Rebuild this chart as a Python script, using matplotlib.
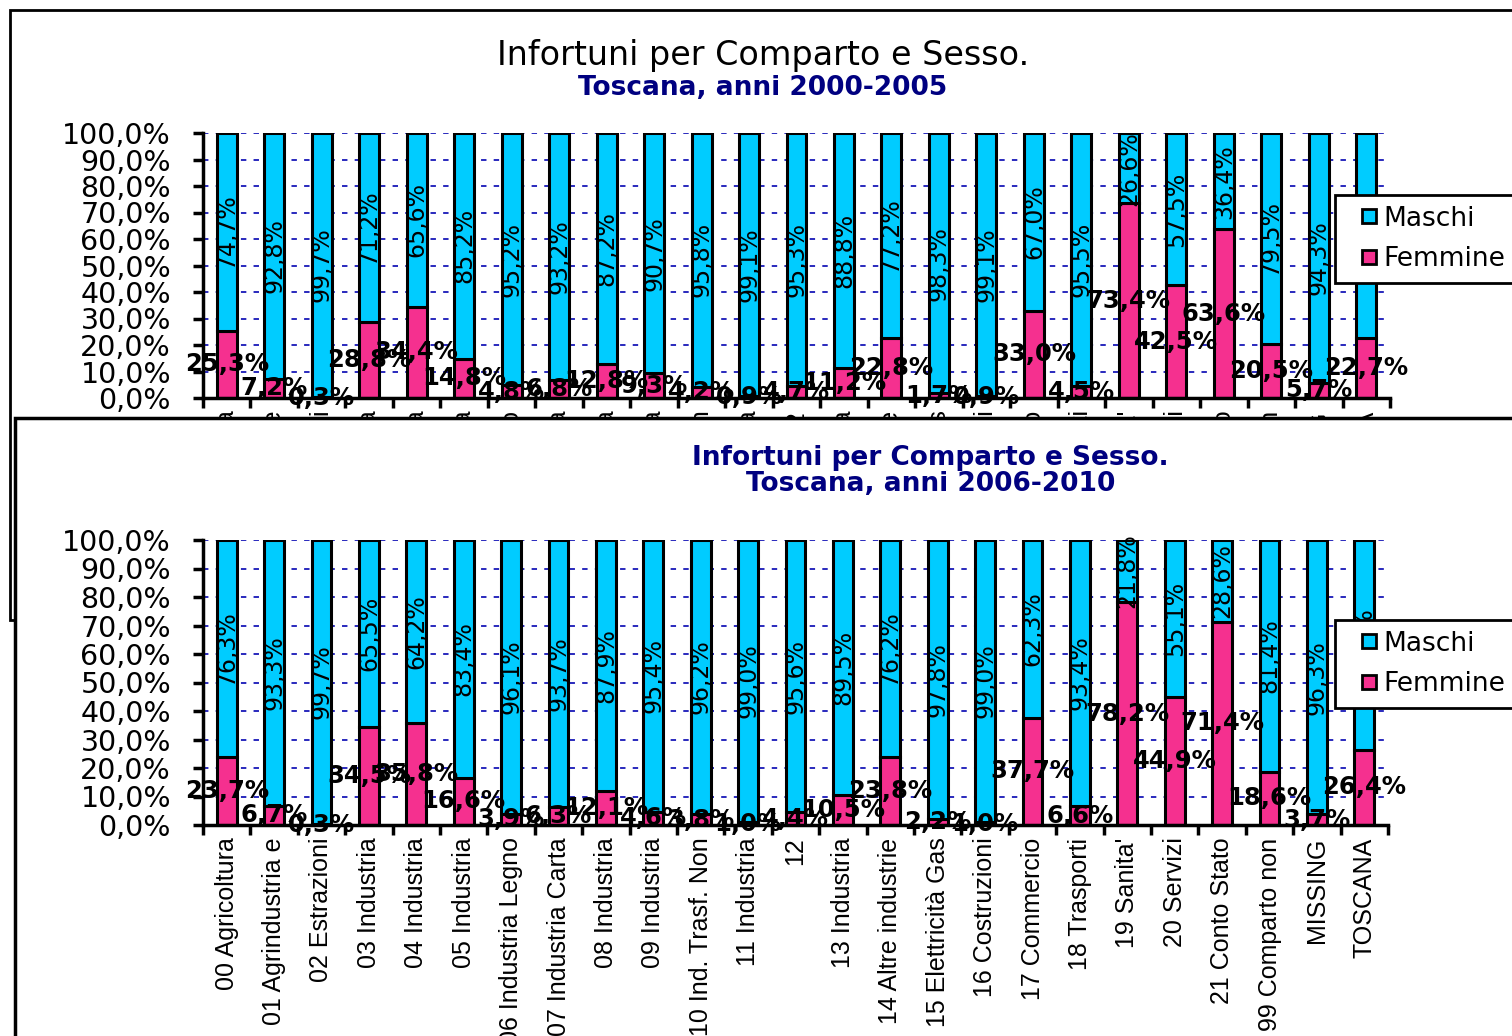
import matplotlib.pyplot as plt
import numpy as np
from matplotlib.lines import Line2D
from matplotlib.patches import Rectangle
from matplotlib.ticker import FuncFormatter

W, H = 1512, 1036

comparti = ["00 Agricoltura", "01 Agrindustria e", "02 Estrazioni", "03 Industria",
            "04 Industria", "05 Industria", "06 Industria Legno", "07 Industria Carta",
            "08 Industria", "09 Industria", "10 Ind. Trasf. Non", "11 Industria", "12",
            "13 Industria", "14 Altre industrie", "15 Elettricità Gas", "16 Costruzioni",
            "17 Commercio", "18 Trasporti", "19 Sanita'", "20 Servizi", "21 Conto Stato",
            "99 Comparto non", "MISSING", "TOSCANA"]

# 2000-2005
femmine_0005 = [25.3, 7.2, 0.3, 28.8, 34.4, 14.8, 4.8, 6.8, 12.8, 9.3, 4.2, 0.9, 4.7,
                11.2, 22.8, 1.7, 0.9, 33.0, 4.5, 73.4, 42.5, 63.6, 20.5, 5.7, 22.7]
maschi_0005 = [74.7, 92.8, 99.7, 71.2, 65.6, 85.2, 95.2, 93.2, 87.2, 90.7, 95.8, 99.1, 95.3,
               88.8, 77.2, 98.3, 99.1, 67.0, 95.5, 26.6, 57.5, 36.4, 79.5, 94.3, 77.3]

# 2006-2010
femmine_0610 = [23.7, 6.7, 0.3, 34.5, 35.8, 16.6, 3.9, 6.3, 12.1, 4.6, 3.8, 1.0, 4.4,
                10.5, 23.8, 2.2, 1.0, 37.7, 6.6, 78.2, 44.9, 71.4, 18.6, 3.7, 26.4]
maschi_0610 = [76.3, 93.3, 99.7, 65.5, 64.2, 83.4, 96.1, 93.7, 87.9, 95.4, 96.2, 99.0, 95.6,
               89.5, 76.2, 97.8, 99.0, 62.3, 93.4, 21.8, 55.1, 28.6, 81.4, 96.3, 73.6]

CYAN = "#00CCFF"
PINK = "#F5308F"
NAVY = "#000080"


def pct(v):
    return "{:.1f}%".format(v).replace(".", ",")


def px_box(x0, y0, x1, y1):
    # pixel box (top-left origin) -> figure fraction [left, bottom, width, height]
    return [x0 / W, 1 - y1 / H, (x1 - x0) / W, (y1 - y0) / H]


def draw_chart(ax, femmine, maschi):
    x = np.arange(len(comparti))
    ax.bar(x, femmine, width=0.42, color=PINK, edgecolor="black", lw=2.2, zorder=2)
    ax.bar(x, maschi, width=0.42, bottom=femmine, color=CYAN, edgecolor="black", lw=2.2,
           zorder=2)

    for i in range(len(x)):
        ax.text(x[i], femmine[i] / 2, pct(femmine[i]), ha="center", va="center",
                fontsize=17.5, fontweight="bold", zorder=3)
        ax.text(x[i], femmine[i] + maschi[i] / 2, pct(maschi[i]), ha="center", va="center",
                fontsize=17, rotation=90, zorder=3)

    ax.set_xlim(-0.5, len(x) - 0.5)
    ax.set_ylim(0, 100)
    ax.set_yticks(np.arange(0, 101, 10))
    ax.yaxis.set_major_formatter(FuncFormatter(lambda v, p: pct(v)))
    ax.tick_params(axis="y", length=7, width=2.5, labelsize=20.5, pad=16)

    ax.set_xticks(x)
    ax.set_xticklabels(comparti, rotation=90, fontsize=18, family="Liberation Sans")
    ax.tick_params(axis="x", which="major", length=0, pad=9)
    ax.set_xticks(np.arange(-0.5, len(x)), minor=True)
    ax.tick_params(axis="x", which="minor", length=7, width=2.5)

    ax.yaxis.grid(True, linestyle=(0, (3, 4)), color="#1818B8", lw=1.3)
    ax.set_axisbelow(True)
    for s in ["top", "right"]:
        ax.spines[s].set_visible(False)
    for s in ["left", "bottom"]:
        ax.spines[s].set_linewidth(2.5)
    ax.patch.set_visible(False)


def add_legend(ax, top_y):
    handles = [Line2D([], [], ls="none", marker="s", markersize=10, markerfacecolor=c,
                      markeredgecolor="black", markeredgewidth=2) for c in (CYAN, PINK)]
    leg = ax.legend(handles, ["Maschi", "Femmine"], loc="upper left",
                    bbox_to_anchor=(1335 / W, 1 - top_y / H), bbox_transform=fig.transFigure,
                    fontsize=19, frameon=True, fancybox=False, edgecolor="black", framealpha=1,
                    handlelength=1.75, handletextpad=-0.3, labelspacing=0.55, borderpad=0.4,
                    borderaxespad=0)
    leg.get_frame().set_linewidth(2)


fig = plt.figure(figsize=(W / 100, H / 100), dpi=100)

# top chart frame
fig.add_artist(Rectangle((10 / W, 1 - 620 / H), 1600 / W, 610 / H, transform=fig.transFigure,
                         facecolor="white", edgecolor="black", lw=2, zorder=0))

ax_top = fig.add_axes(px_box(203, 133, 1390, 398))
ax_top.set_zorder(1)
draw_chart(ax_top, femmine_0005, maschi_0005)
add_legend(ax_top, 195)
fig.text(763 / W, 1 - 55 / H, "Infortuni per Comparto e Sesso.", ha="center", va="center",
         fontsize=24, zorder=1)
fig.text(763 / W, 1 - 88 / H, "Toscana, anni 2000-2005", ha="center", va="center",
         fontsize=19, fontweight="bold", color=NAVY, zorder=1)

# bottom chart, pasted over the first one
fig.add_artist(Rectangle((15 / W, -0.1), 1600 / W, 1 - 418 / H + 0.1, transform=fig.transFigure,
                         facecolor="white", edgecolor="black", lw=2.5, zorder=2))

ax_bot = fig.add_axes(px_box(203, 540, 1388, 825))
ax_bot.set_zorder(3)
draw_chart(ax_bot, femmine_0610, maschi_0610)
add_legend(ax_bot, 620)
fig.text(930 / W, 1 - 458 / H, "Infortuni per Comparto e Sesso.", ha="center", va="center",
         fontsize=19, fontweight="bold", color=NAVY, zorder=4)
fig.text(931 / W, 1 - 484 / H, "Toscana, anni 2006-2010", ha="center", va="center",
         fontsize=19, fontweight="bold", color=NAVY, zorder=4)

plt.savefig("out.png", dpi=100)
